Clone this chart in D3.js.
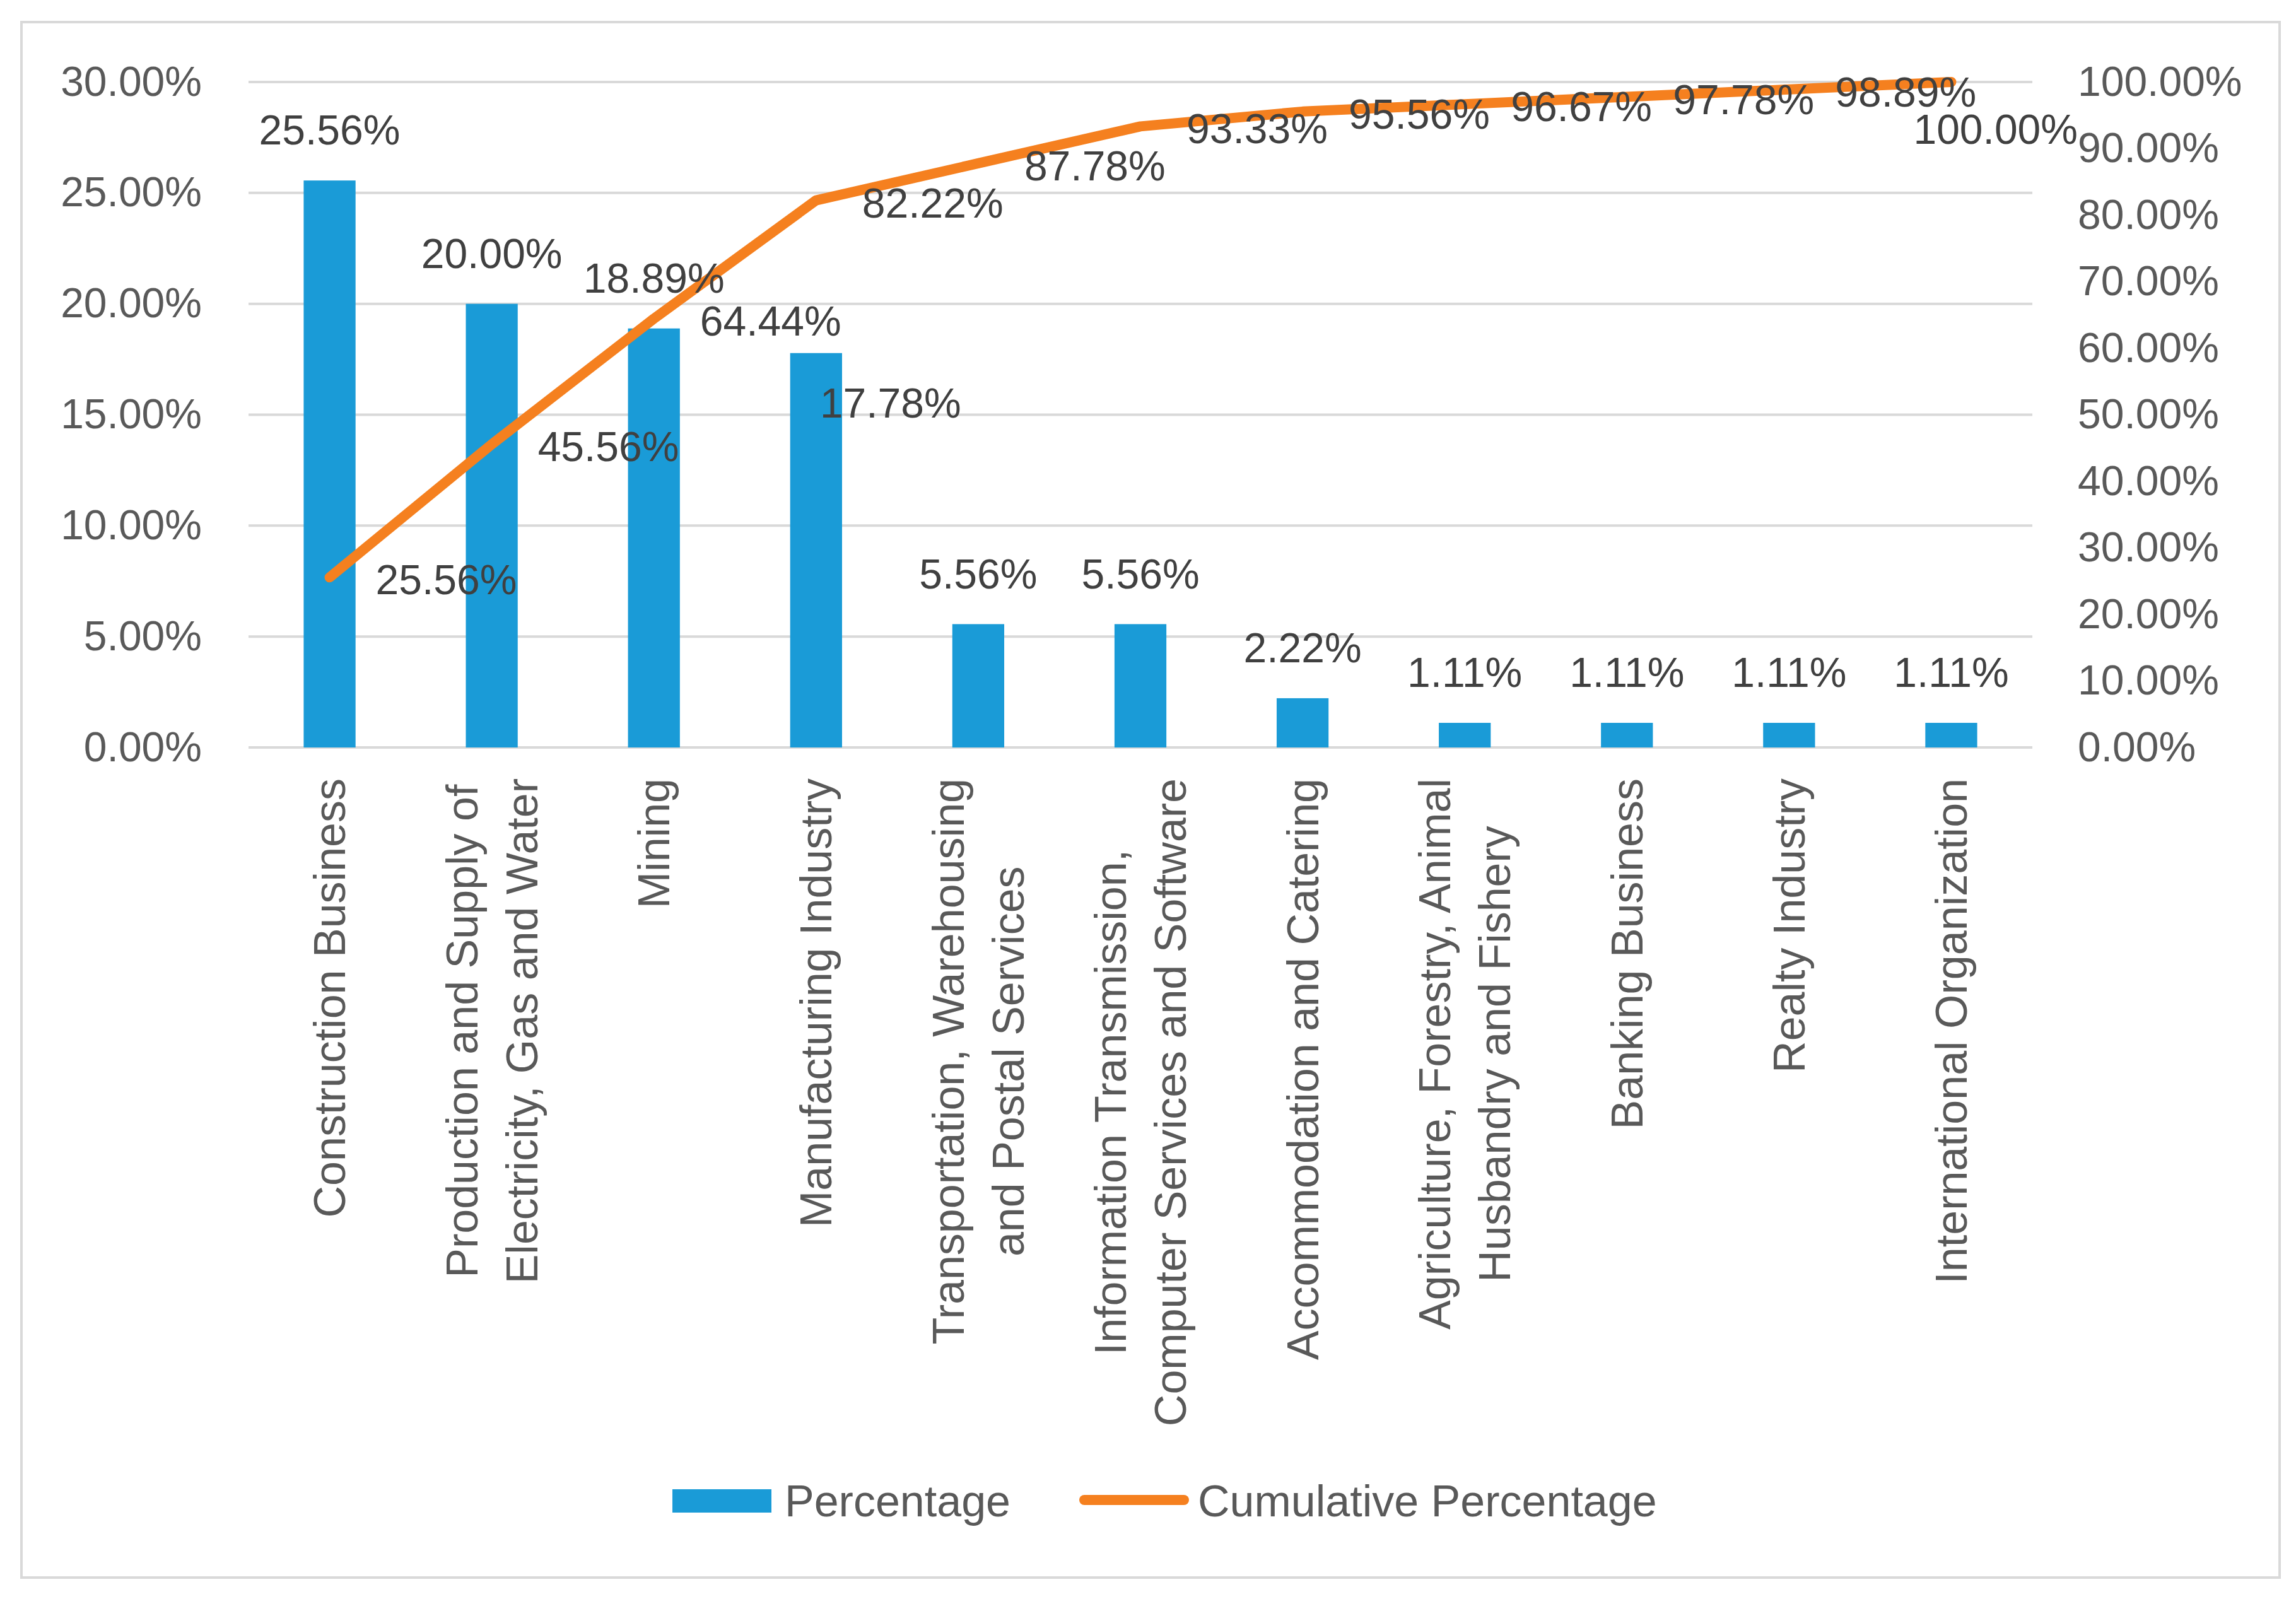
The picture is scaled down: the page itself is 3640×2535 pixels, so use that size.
<!DOCTYPE html>
<html><head><meta charset="utf-8">
<script src="https://cdn.jsdelivr.net/npm/d3@7"></script>
<style>
body{margin:0;background:#fff}
text{font-family:"Liberation Sans",Arial,sans-serif}
</style>
</head><body>
<svg id="chart" width="3640" height="2535"></svg>
<script>
// ---- data ----
const categories = [
  "Construction Business",
  "Production and Supply of\nElectricity, Gas and Water",
  "Mining",
  "Manufacturing Industry",
  "Transportation, Warehousing\nand Postal Services",
  "Information Transmission,\nComputer Services and Software",
  "Accommodation and Catering",
  "Agriculture, Forestry, Animal\nHusbandry and Fishery",
  "Banking Business",
  "Realty Industry",
  "International Organization"
];
const percentage = [25.56, 20.00, 18.89, 17.78, 5.56, 5.56, 2.22, 1.11, 1.11, 1.11, 1.11];
const cumulative = [25.56, 45.56, 64.44, 82.22, 87.78, 93.33, 95.56, 96.67, 97.78, 98.89, 100.00];
const leftTicks = [0, 5, 10, 15, 20, 25, 30];
const rightTicks = [0, 10, 20, 30, 40, 50, 60, 70, 80, 90, 100];
const seriesNames = ["Percentage", "Cumulative Percentage"];

// ---- layout ----
const W = 3640, H = 2535;
const plot = {left: 394, right: 3222, top: 130, bottom: 1185};
const blue = "#1a9bd7", orange = "#f5801f";
const axisColor = "#595959", labelColor = "#404040", gridColor = "#d9d9d9";
const fs = 66, fsCat = 70;

const svg = d3.select("#chart");
svg.append("rect").attr("x",0).attr("y",0).attr("width",W).attr("height",H).attr("fill","#fff");
svg.append("rect").attr("x",34).attr("y",35).attr("width",3580).attr("height",2466)
  .attr("fill","none").attr("stroke",gridColor).attr("stroke-width",4);

const x = d3.scaleBand().domain(categories).range([plot.left, plot.right])
  .paddingInner(0.68).paddingOuter(0.34);
const yL = d3.scaleLinear().domain([0, 30]).range([plot.bottom, plot.top]);
const yR = d3.scaleLinear().domain([0, 100]).range([plot.bottom, plot.top]);
const cx = c => x(c) + x.bandwidth() / 2;
const fmt = v => v.toFixed(2) + "%";

// gridlines
svg.append("g").selectAll("line").data(leftTicks).join("line")
  .attr("x1", plot.left).attr("x2", plot.right)
  .attr("y1", d => yL(d)).attr("y2", d => yL(d))
  .attr("stroke", gridColor).attr("stroke-width", 4);

// axes
const axL = svg.append("g").attr("transform", `translate(${plot.left},0)`)
  .call(d3.axisLeft(yL).tickValues(leftTicks).tickSize(0).tickPadding(74).tickFormat(fmt));
const axR = svg.append("g").attr("transform", `translate(${plot.right},0)`)
  .call(d3.axisRight(yR).tickValues(rightTicks).tickSize(0).tickPadding(72).tickFormat(fmt));
[axL, axR].forEach(a => {
  a.select(".domain").remove();
  a.selectAll("text").attr("font-size", fs).attr("fill", axisColor)
    .attr("font-family", '"Liberation Sans",Arial,sans-serif');
});

// bars
svg.append("g").selectAll("rect").data(percentage).join("rect")
  .attr("x", (d, i) => x(categories[i]))
  .attr("width", x.bandwidth())
  .attr("y", d => yL(d))
  .attr("height", d => plot.bottom - yL(d))
  .attr("fill", blue);

// line
const line = d3.line().x((d, i) => cx(categories[i])).y(d => yR(d));
svg.append("path").datum(cumulative).attr("d", line)
  .attr("fill", "none").attr("stroke", orange).attr("stroke-width", 16)
  .attr("stroke-linejoin", "round").attr("stroke-linecap", "round");

// bar labels (one manually moved label as in the reference)
const barNudge = {3: [118, 159]};
svg.append("g").selectAll("text").data(percentage).join("text")
  .attr("x", (d, i) => cx(categories[i]) + (barNudge[i] ? barNudge[i][0] : 0))
  .attr("y", (d, i) => yL(d) - 80 + (barNudge[i] ? barNudge[i][1] : 0))
  .attr("dy", "0.35em").attr("text-anchor", "middle")
  .attr("font-size", fs).attr("fill", labelColor).text(fmt);

// line labels (right of point; last one moved below-left as in the reference)
const lineNudge = {10: [-133, 71]};
svg.append("g").selectAll("text").data(cumulative).join("text")
  .attr("x", (d, i) => cx(categories[i]) + 73 + (lineNudge[i] ? lineNudge[i][0] : 0))
  .attr("y", (d, i) => yR(d) + 4 + (lineNudge[i] ? lineNudge[i][1] : 0))
  .attr("dy", "0.35em").attr("text-anchor", "start")
  .attr("font-size", fs).attr("fill", labelColor).text(fmt);

// category labels (rotated)
const catTop = 1234, lineH = 95;
categories.forEach(c => {
  const lines = c.split("\n");
  const g = svg.append("g").attr("transform", `translate(${cx(c)},${catTop}) rotate(-90)`);
  const texts = lines.map((l, j) => g.append("text")
    .attr("y", (j - (lines.length - 1) / 2) * lineH)
    .attr("dy", "0.35em").attr("text-anchor", "middle")
    .attr("font-size", fsCat).attr("fill", axisColor).text(l));
  const maxW = d3.max(texts, t => t.node().getComputedTextLength());
  texts.forEach(t => t.attr("x", -maxW / 2));
});

// legend
const lg = svg.append("g");
lg.append("rect").attr("x", 1066).attr("y", 2361).attr("width", 157).attr("height", 37).attr("fill", blue);
lg.append("text").attr("x", 1244).attr("y", 2379).attr("dy", "0.35em")
  .attr("font-size", fsCat).attr("fill", axisColor).text(seriesNames[0]);
lg.append("line").attr("x1", 1719).attr("x2", 1877).attr("y1", 2378).attr("y2", 2378)
  .attr("stroke", orange).attr("stroke-width", 16).attr("stroke-linecap", "round");
lg.append("text").attr("x", 1899).attr("y", 2379).attr("dy", "0.35em")
  .attr("font-size", fsCat).attr("fill", axisColor).text(seriesNames[1]);
</script>
</body></html>
